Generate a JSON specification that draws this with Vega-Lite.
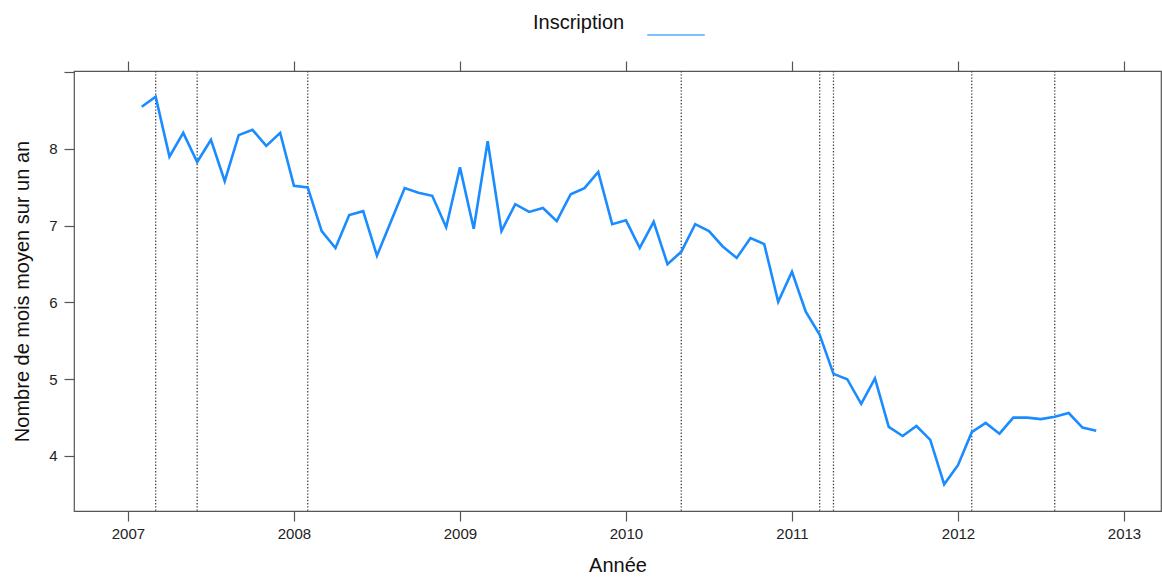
{
  "$schema": "https://vega.github.io/schema/vega-lite/v6.json",
  "autosize": "none",
  "width": 1087,
  "height": 440,
  "padding": {"left": 74, "top": 71, "right": 1, "bottom": 66},
  "background": "white",
  "config": {
    "view": {"stroke": "#555", "strokeWidth": 1.2},
    "font": "Liberation Sans",
    "axis": {
      "grid": false,
      "domain": false,
      "tickColor": "#555",
      "tickSize": 10,
      "tickWidth": 1.2,
      "labelFont": "Liberation Sans",
      "labelFontSize": 15,
      "labelColor": "#222",
      "titleFont": "Liberation Sans",
      "titleFontSize": 20,
      "titleFontWeight": "normal",
      "titleColor": "#111"
    }
  },
  "datasets": {
    "serie": [
      {"t": 2007.083, "v": 8.55, "s": "Inscription"},
      {"t": 2007.167, "v": 8.68, "s": "Inscription"},
      {"t": 2007.25, "v": 7.90, "s": "Inscription"},
      {"t": 2007.333, "v": 8.21, "s": "Inscription"},
      {"t": 2007.417, "v": 7.83, "s": "Inscription"},
      {"t": 2007.5, "v": 8.12, "s": "Inscription"},
      {"t": 2007.583, "v": 7.58, "s": "Inscription"},
      {"t": 2007.667, "v": 8.18, "s": "Inscription"},
      {"t": 2007.75, "v": 8.25, "s": "Inscription"},
      {"t": 2007.833, "v": 8.04, "s": "Inscription"},
      {"t": 2007.917, "v": 8.21, "s": "Inscription"},
      {"t": 2008.0, "v": 7.52, "s": "Inscription"},
      {"t": 2008.083, "v": 7.50, "s": "Inscription"},
      {"t": 2008.167, "v": 6.93, "s": "Inscription"},
      {"t": 2008.25, "v": 6.71, "s": "Inscription"},
      {"t": 2008.333, "v": 7.14, "s": "Inscription"},
      {"t": 2008.417, "v": 7.19, "s": "Inscription"},
      {"t": 2008.5, "v": 6.61, "s": "Inscription"},
      {"t": 2008.583, "v": 7.05, "s": "Inscription"},
      {"t": 2008.667, "v": 7.49, "s": "Inscription"},
      {"t": 2008.75, "v": 7.43, "s": "Inscription"},
      {"t": 2008.833, "v": 7.39, "s": "Inscription"},
      {"t": 2008.917, "v": 6.98, "s": "Inscription"},
      {"t": 2009.0, "v": 7.76, "s": "Inscription"},
      {"t": 2009.083, "v": 6.96, "s": "Inscription"},
      {"t": 2009.167, "v": 8.10, "s": "Inscription"},
      {"t": 2009.25, "v": 6.93, "s": "Inscription"},
      {"t": 2009.333, "v": 7.28, "s": "Inscription"},
      {"t": 2009.417, "v": 7.18, "s": "Inscription"},
      {"t": 2009.5, "v": 7.23, "s": "Inscription"},
      {"t": 2009.583, "v": 7.06, "s": "Inscription"},
      {"t": 2009.667, "v": 7.41, "s": "Inscription"},
      {"t": 2009.75, "v": 7.49, "s": "Inscription"},
      {"t": 2009.833, "v": 7.70, "s": "Inscription"},
      {"t": 2009.917, "v": 7.02, "s": "Inscription"},
      {"t": 2010.0, "v": 7.07, "s": "Inscription"},
      {"t": 2010.083, "v": 6.71, "s": "Inscription"},
      {"t": 2010.167, "v": 7.05, "s": "Inscription"},
      {"t": 2010.25, "v": 6.50, "s": "Inscription"},
      {"t": 2010.333, "v": 6.66, "s": "Inscription"},
      {"t": 2010.417, "v": 7.02, "s": "Inscription"},
      {"t": 2010.5, "v": 6.93, "s": "Inscription"},
      {"t": 2010.583, "v": 6.73, "s": "Inscription"},
      {"t": 2010.667, "v": 6.58, "s": "Inscription"},
      {"t": 2010.75, "v": 6.84, "s": "Inscription"},
      {"t": 2010.833, "v": 6.76, "s": "Inscription"},
      {"t": 2010.917, "v": 6.01, "s": "Inscription"},
      {"t": 2011.0, "v": 6.40, "s": "Inscription"},
      {"t": 2011.083, "v": 5.88, "s": "Inscription"},
      {"t": 2011.167, "v": 5.58, "s": "Inscription"},
      {"t": 2011.25, "v": 5.07, "s": "Inscription"},
      {"t": 2011.333, "v": 5.00, "s": "Inscription"},
      {"t": 2011.417, "v": 4.68, "s": "Inscription"},
      {"t": 2011.5, "v": 5.01, "s": "Inscription"},
      {"t": 2011.583, "v": 4.38, "s": "Inscription"},
      {"t": 2011.667, "v": 4.26, "s": "Inscription"},
      {"t": 2011.75, "v": 4.39, "s": "Inscription"},
      {"t": 2011.833, "v": 4.21, "s": "Inscription"},
      {"t": 2011.917, "v": 3.63, "s": "Inscription"},
      {"t": 2012.0, "v": 3.88, "s": "Inscription"},
      {"t": 2012.083, "v": 4.31, "s": "Inscription"},
      {"t": 2012.167, "v": 4.43, "s": "Inscription"},
      {"t": 2012.25, "v": 4.29, "s": "Inscription"},
      {"t": 2012.333, "v": 4.50, "s": "Inscription"},
      {"t": 2012.417, "v": 4.50, "s": "Inscription"},
      {"t": 2012.5, "v": 4.48, "s": "Inscription"},
      {"t": 2012.583, "v": 4.51, "s": "Inscription"},
      {"t": 2012.667, "v": 4.56, "s": "Inscription"},
      {"t": 2012.75, "v": 4.37, "s": "Inscription"},
      {"t": 2012.833, "v": 4.33, "s": "Inscription"}
    ],
    "evenements": [
      {"t": 2007.167},
      {"t": 2007.417},
      {"t": 2008.083},
      {"t": 2010.333},
      {"t": 2011.167},
      {"t": 2011.25},
      {"t": 2012.083},
      {"t": 2012.583}
    ]
  },
  "layer": [
    {
      "data": {"name": "evenements"},
      "mark": {"type": "rule", "color": "#444", "strokeWidth": 1.3, "strokeDash": [1.4, 1.8]},
      "encoding": {
        "x": {
          "field": "t",
          "type": "quantitative",
          "scale": {"domain": [2006.675, 2013.223], "nice": false, "zero": false},
          "axis": {"orient": "top", "values": [2007, 2008, 2009, 2010, 2011, 2012, 2013], "labels": false, "title": null}
        }
      }
    },
    {
      "data": {"name": "serie"},
      "mark": {"type": "line", "strokeWidth": 2.6, "clip": true},
      "encoding": {
        "x": {
          "field": "t",
          "type": "quantitative",
          "scale": {"domain": [2006.675, 2013.223], "nice": false, "zero": false},
          "axis": {"orient": "bottom", "values": [2007, 2008, 2009, 2010, 2011, 2012, 2013], "format": "d", "labelPadding": 5, "title": "Année", "titlePadding": 14}
        },
        "y": {
          "field": "v",
          "type": "quantitative",
          "scale": {"domain": [3.283, 9.016], "nice": false, "zero": false},
          "axis": {"orient": "left", "values": [4, 5, 6, 7, 8, 9], "labelExpr": "datum.value == 9 ? '' : datum.label", "labelPadding": 7, "title": "Nombre de mois moyen sur un an", "titlePadding": 16}
        },
        "color": {
          "field": "s",
          "type": "nominal",
          "scale": {"range": ["#1a8cff"]},
          "legend": {
            "orient": "none",
            "legendX": 459,
            "legendY": -66,
            "title": "Inscription",
            "titleOrient": "left",
            "titleFontSize": 20,
            "titleFontWeight": "normal",
            "titleColor": "#111",
            "titleFont": "Liberation Sans",
            "titlePadding": 21,
            "labelExpr": "''",
            "symbolType": "stroke",
            "symbolSize": 3300,
            "symbolStrokeWidth": 1.6,
            "symbolOpacity": 0.75
          }
        }
      }
    }
  ],
  "resolve": {"axis": {"x": "independent"}}
}
